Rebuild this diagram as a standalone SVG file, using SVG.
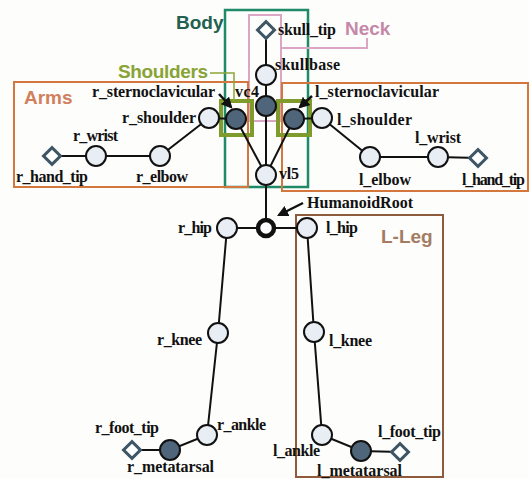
<svg xmlns="http://www.w3.org/2000/svg" width="529" height="479" viewBox="0 0 529 479">
<defs>
<marker id="ah" viewBox="0 0 10 10" refX="8" refY="5" markerWidth="4.5" markerHeight="4.5" orient="auto-start-reverse"><path d="M0,0 L10,5 L0,10 z" fill="#111"/></marker>
</defs>
<style>
.lbl{font-family:"Liberation Serif","DejaVu Serif",serif;font-weight:bold;font-size:16px;fill:#111}
.grp{font-family:"Liberation Sans","DejaVu Sans",sans-serif;font-weight:bold;font-size:19px}
.edge{stroke:#111;stroke-width:2;fill:none}
.lt{fill:#e9edf4;stroke:#111;stroke-width:2}
.dk{fill:#4f6579;stroke:#111;stroke-width:2}
.tip{fill:#fff;stroke:#3d5565;stroke-width:3}
.box{fill:none}
.arr{stroke:#111;stroke-width:2.5;fill:none;marker-end:url(#ah)}
</style>
<rect width="529" height="479" fill="#fdfdfb"/>

<g id="groups">
<g id="g-body"><rect class="box" x="225" y="10" width="83" height="177" stroke="#1f8a68" stroke-width="2.5"/><text class="grp" x="176" y="29" fill="#22604f">Body</text></g>
<g id="g-neck"><rect class="box" x="249" y="15" width="32" height="106" stroke="#dba6c4" stroke-width="2"/><polyline points="281,48 367,48 367,38" fill="none" stroke="#dba6c4" stroke-width="2"/><text class="grp" x="345" y="35" fill="#c588a8">Neck</text></g>
<g id="g-arms"><rect class="box" x="14" y="82" width="234" height="105" stroke="#d4773f" stroke-width="2"/><rect class="box" x="282" y="83" width="246" height="108" stroke="#d4773f" stroke-width="2"/><text class="grp" x="24" y="104" fill="#d0805c">Arms</text></g>
<g id="g-lleg"><rect class="box" x="296" y="215" width="147" height="262" stroke="#8e5c3c" stroke-width="2"/><text class="grp" x="381" y="243" fill="#a47c64">L-Leg</text></g>
<g id="g-shoulders"><rect class="box" x="221" y="101" width="31" height="34" stroke="#7e9b2c" stroke-width="4"/><rect class="box" x="278" y="101" width="32" height="34" stroke="#7e9b2c" stroke-width="4"/><polyline points="210,73 234,73 234,101" fill="none" stroke="#8aa53a" stroke-width="1.5"/><text class="grp" x="118" y="78" fill="#88a336" textLength="90">Shoulders</text></g>
</g>

<g id="connectors">
<line class="edge" x1="266" y1="30" x2="266" y2="228"/>
<line class="edge" x1="266" y1="175" x2="236" y2="119"/>
<line class="edge" x1="266" y1="175" x2="294" y2="119"/>
<line class="edge" x1="236" y1="119" x2="209" y2="118"/>
<polyline class="edge" points="209,118 160,156 96,156 52,156"/>
<line class="edge" x1="294" y1="119" x2="322" y2="118"/>
<polyline class="edge" points="322,118 370,157 438,157 478,158"/>
<line class="edge" x1="227" y1="228" x2="307" y2="228"/>
<polyline class="edge" points="227,228 218,333 207,435 170,450 132,450"/>
<polyline class="edge" points="307,228 314,332 322,435 361,451 400,452"/>
<line class="arr" x1="219" y1="94" x2="231" y2="107"/>
<line class="arr" x1="312" y1="96" x2="300" y2="107"/>
<line class="arr" x1="303" y1="203" x2="279" y2="215"/>
</g>

<g id="n-skull_tip"><rect class="tip" x="260" y="24" width="12" height="12" transform="rotate(45 266 30)"/><text class="lbl" x="278" y="35" textLength="58">skull_tip</text></g>
<g id="n-skullbase"><circle class="lt" cx="266" cy="75" r="10"/><text class="lbl" x="275" y="70" textLength="65">skullbase</text></g>
<g id="n-vc4"><circle class="dk" cx="266" cy="106" r="10"/><text class="lbl" x="235" y="97" textLength="24">vc4</text></g>
<g id="n-vl5"><circle class="lt" cx="266" cy="175" r="10"/><text class="lbl" x="279" y="179" textLength="20">vl5</text></g>
<g id="n-r_sternoclavicular"><circle class="dk" cx="236" cy="119" r="10"/><text class="lbl" x="92" y="97" textLength="123">r_sternoclavicular</text></g>
<g id="n-l_sternoclavicular"><circle class="dk" cx="294" cy="119" r="10"/><text class="lbl" x="315" y="97" textLength="124">l_sternoclavicular</text></g>
<g id="n-r_shoulder"><circle class="lt" cx="209" cy="118" r="10"/><text class="lbl" x="122" y="123" textLength="74">r_shoulder</text></g>
<g id="n-l_shoulder"><circle class="lt" cx="322" cy="118" r="10"/><text class="lbl" x="337" y="125" textLength="75">l_shoulder</text></g>
<g id="n-r_elbow"><circle class="lt" cx="160" cy="156" r="10"/><text class="lbl" x="136" y="182" textLength="52">r_elbow</text></g>
<g id="n-r_wrist"><circle class="lt" cx="96" cy="156" r="10"/><text class="lbl" x="73" y="141" textLength="45">r_wrist</text></g>
<g id="n-r_hand_tip"><rect class="tip" x="46" y="150" width="12" height="12" transform="rotate(45 52 156)"/><text class="lbl" x="16" y="182" textLength="72">r_hand_tip</text></g>
<g id="n-l_elbow"><circle class="lt" cx="370" cy="157" r="10"/><text class="lbl" x="359" y="185" textLength="52">l_elbow</text></g>
<g id="n-l_wrist"><circle class="lt" cx="438" cy="157" r="10"/><text class="lbl" x="415" y="143" textLength="46">l_wrist</text></g>
<g id="n-l_hand_tip"><rect class="tip" x="472" y="152" width="12" height="12" transform="rotate(45 478 158)"/><text class="lbl" x="462" y="185" textLength="63">l_hand_tip</text></g>
<g id="n-HumanoidRoot"><circle cx="266" cy="228" r="8" fill="#fff" stroke="#111" stroke-width="4.5"/><text class="lbl" x="307" y="208" textLength="106">HumanoidRoot</text></g>
<g id="n-r_hip"><circle class="lt" cx="227" cy="228" r="10"/><text class="lbl" x="178" y="233" textLength="34">r_hip</text></g>
<g id="n-l_hip"><circle class="lt" cx="307" cy="228" r="10"/><text class="lbl" x="326" y="233" textLength="32">l_hip</text></g>
<g id="n-r_knee"><circle class="lt" cx="218" cy="333" r="10"/><text class="lbl" x="157" y="345" textLength="45">r_knee</text></g>
<g id="n-l_knee"><circle class="lt" cx="314" cy="332" r="10"/><text class="lbl" x="329" y="346" textLength="43">l_knee</text></g>
<g id="n-r_ankle"><circle class="lt" cx="207" cy="435" r="10"/><text class="lbl" x="217" y="430" textLength="49">r_ankle</text></g>
<g id="n-l_ankle"><circle class="lt" cx="322" cy="435" r="10"/><text class="lbl" x="273" y="456" textLength="47">l_ankle</text></g>
<g id="n-r_metatarsal"><circle class="dk" cx="170" cy="450" r="10"/><text class="lbl" x="127" y="472" textLength="87">r_metatarsal</text></g>
<g id="n-l_metatarsal"><circle class="dk" cx="361" cy="451" r="10"/><text class="lbl" x="317" y="476" textLength="85">l_metatarsal</text></g>
<g id="n-r_foot_tip"><rect class="tip" x="126" y="444" width="12" height="12" transform="rotate(45 132 450)"/><text class="lbl" x="95" y="433" textLength="64">r_foot_tip</text></g>
<g id="n-l_foot_tip"><rect class="tip" x="394" y="446" width="12" height="12" transform="rotate(45 400 452)"/><text class="lbl" x="378" y="437" textLength="63">l_foot_tip</text></g>
</svg>
